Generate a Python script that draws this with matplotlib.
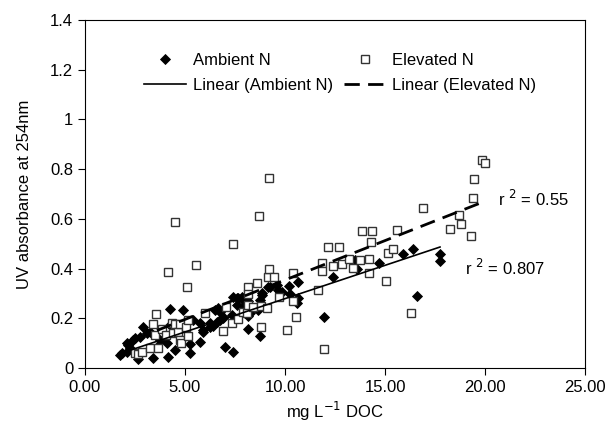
import numpy as np
import matplotlib.pyplot as plt
from matplotlib.ticker import FormatStrFormatter, FuncFormatter

# Ambient N (diamonds)
amb_x = [1.75, 1.83, 2.08, 2.08, 2.17, 2.25, 2.42, 2.5, 2.67, 2.75, 2.92, 3.08, 3.25, 3.42,
         3.58, 3.75, 4.08, 4.17, 4.25, 4.25, 4.5, 4.58, 4.92, 5.25, 5.25, 5.42, 5.75, 5.75,
         5.92, 5.92, 6.25, 6.25, 6.42, 6.5, 6.58, 6.67, 6.75, 6.75, 6.92, 6.92, 7.0, 7.33,
         7.42, 7.42, 7.58, 7.58, 7.67, 7.83, 7.92, 7.92, 8.0, 8.17, 8.17, 8.17, 8.25, 8.67,
         8.75, 8.75, 8.83, 8.83, 9.17, 9.25, 9.58, 9.67, 9.75, 9.83, 10.2, 10.25, 10.58,
         10.63, 10.67, 11.95, 12.42, 13.5, 13.58, 14.72, 15.88, 16.38, 16.62, 17.75, 17.75]
amb_y = [0.052, 0.06, 0.066, 0.099, 0.093, 0.079, 0.113, 0.119, 0.035, 0.126, 0.166, 0.139,
         0.146, 0.04, 0.086, 0.113, 0.099, 0.045, 0.173, 0.238, 0.072, 0.166, 0.232, 0.096,
         0.059, 0.193, 0.106, 0.18, 0.146, 0.153, 0.166, 0.182, 0.169, 0.233, 0.186, 0.24,
         0.193, 0.226, 0.2, 0.206, 0.085, 0.213, 0.066, 0.287, 0.253, 0.28, 0.28, 0.287,
         0.273, 0.247, 0.22, 0.156, 0.209, 0.27, 0.22, 0.233, 0.129, 0.273, 0.294, 0.3,
         0.327, 0.327, 0.334, 0.314, 0.307, 0.307, 0.33, 0.298, 0.26, 0.347, 0.28, 0.205,
         0.366, 0.434, 0.40, 0.424, 0.457, 0.479, 0.291, 0.457, 0.43]

# Elevated N (open squares)
elev_x = [2.5, 2.63, 2.83, 3.25, 3.38, 3.5, 3.53, 3.67, 3.83, 4.05, 4.13, 4.37, 4.42, 4.5,
          4.5, 4.67, 4.75, 4.75, 4.78, 5.05, 5.08, 5.17, 5.17, 5.55, 6.0, 6.92, 7.05, 7.33,
          7.42, 7.63, 7.92, 8.08, 8.13, 8.13, 8.17, 8.38, 8.62, 8.72, 8.78, 8.8, 9.08, 9.13,
          9.2, 9.2, 9.45, 9.72, 10.12, 10.38, 10.42, 10.53, 11.67, 11.83, 11.83, 11.95,
          12.17, 12.38, 12.72, 12.83, 13.22, 13.42, 13.75, 13.85, 14.22, 14.22, 14.28,
          14.33, 15.05, 15.17, 15.42, 15.58, 16.3, 16.9, 18.25, 18.72, 18.78, 19.3, 19.38,
          19.47, 19.83, 20.0]
elev_y = [0.059, 0.056, 0.066, 0.079, 0.176, 0.133, 0.216, 0.079, 0.156, 0.133, 0.388, 0.18,
          0.142, 0.589, 0.177, 0.146, 0.113, 0.177, 0.099, 0.164, 0.326, 0.193, 0.129, 0.415,
          0.223, 0.15, 0.244, 0.182, 0.498, 0.196, 0.227, 0.22, 0.327, 0.298, 0.253, 0.247,
          0.343, 0.611, 0.166, 0.25, 0.243, 0.365, 0.766, 0.397, 0.365, 0.287, 0.153, 0.27,
          0.382, 0.204, 0.314, 0.421, 0.39, 0.075, 0.487, 0.411, 0.487, 0.418, 0.44, 0.402,
          0.434, 0.55, 0.44, 0.382, 0.508, 0.55, 0.348, 0.464, 0.477, 0.555, 0.222, 0.642,
          0.56, 0.615, 0.579, 0.531, 0.685, 0.76, 0.837, 0.823]

# trend lines as drawn in the figure (slope, intercept)
amb_fit = [0.0268, 0.011]
elev_fit = [0.0317, 0.037]

plt.rcParams['font.family'] = ['Liberation Sans', 'DejaVu Sans']
plt.rcParams['font.size'] = 12

fig = plt.figure(figsize=(6.1, 4.34), dpi=100)
ax = fig.add_axes([85 / 610, (434 - 368) / 434, 500 / 610, 348 / 434])

ax.plot(amb_x, amb_y, 'D', ms=4.6, color='black', mec='black', mew=0.6,
        label='Ambient N', zorder=3)
ax.plot(elev_x, elev_y, 's', ms=6.0, mfc='white', mec='#333333', mew=1.0,
        label='Elevated N', zorder=3)

xa = np.array([min(amb_x), max(amb_x)])
xe = np.array([min(elev_x), max(elev_x)])
ax.plot(xa, amb_fit[0] * xa + amb_fit[1], '-', color='black', lw=1.2,
        label='Linear (Ambient N)', zorder=4)
ax.plot(xe, elev_fit[0] * xe + elev_fit[1], color='black', lw=2.0,
        dashes=(5.5, 3.0), label='Linear (Elevated N)', zorder=4)

ax.text(20.65, 0.68, 'r $^{2}$ = 0.55', va='center', ha='left', fontsize=12)
ax.text(19.0, 0.402, 'r $^{2}$ = 0.807', va='center', ha='left', fontsize=12)

ax.set_xlim(0, 25)
ax.set_ylim(0, 1.4)
ax.set_xticks(np.arange(0, 25.1, 5))
ax.set_yticks(np.arange(0, 1.41, 0.2))
ax.xaxis.set_major_formatter(FormatStrFormatter('%.2f'))
ax.yaxis.set_major_formatter(FuncFormatter(lambda v, p: '%g' % round(v, 1)))
ax.tick_params(direction='out', length=5, width=0.8, labelsize=12)
for s in ax.spines.values():
    s.set_linewidth(0.8)

ax.set_xlabel('mg L$^{-1}$ DOC', fontsize=12)
ax.set_ylabel('UV absorbance at 254nm', fontsize=12, labelpad=13)

h, l = ax.get_legend_handles_labels()
order = [0, 2, 1, 3]
ax.legend([h[i] for i in order], [l[i] for i in order], ncol=2, frameon=False,
          loc='upper left', bbox_to_anchor=(0.105, 0.925), borderaxespad=0,
          fontsize=12, handlelength=2.5, columnspacing=0.65, handletextpad=0.42,
          labelspacing=0.62)

fig.savefig('out.png', dpi=100)
